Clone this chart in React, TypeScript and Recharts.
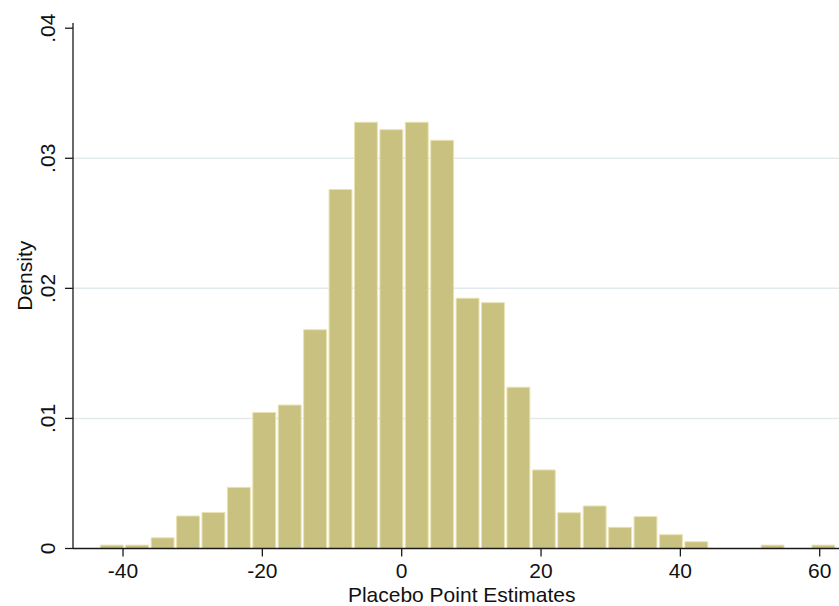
import React from "react";
import { ComposedChart, Bar, XAxis, YAxis, CartesianGrid } from "recharts";

// Histogram definition (bin edges) and densities
const binStart = -43.4;
const binWidth = 3.648;
const densities = [
  0.00026, 0.00026, 0.00082, 0.0025, 0.00277, 0.0047, 0.01046, 0.01103,
  0.01682, 0.0276, 0.03277, 0.0322, 0.03277, 0.03138, 0.01924, 0.0189,
  0.0124, 0.00604, 0.00275, 0.00327, 0.00163, 0.00245, 0.00106, 0.00052,
  0, 0, 0.00026, 0, 0.00026,
];
const xTicks = [-40, -20, 0, 20, 40, 60];
const xTickLabels = ["-40", "-20", "0", "20", "40", "60"];
const yTicks = [0, 0.01, 0.02, 0.03, 0.04];
const yTickLabels = ["0", ".01", ".02", ".03", ".04"];
const yGrid = [0.01, 0.02, 0.03];
const xDomain: [number, number] = [-47.18, 62.77];
const yDomain: [number, number] = [0, 0.0404];

const data = densities.map((d, i) => ({
  mid: binStart + (i + 0.5) * binWidth,
  density: d,
}));

const W = 839;
const H = 606;
const LEFT = 73;
const TOP = 23;
const XAXIS_H = 57.5;
const plotW = W - LEFT;
const barPx = (binWidth / (xDomain[1] - xDomain[0])) * plotW;

const FONT = "'Liberation Sans', Arial, Helvetica, sans-serif";
const AXIS = "#1a1a1a";
const FS = 21;

const XTick = (props: any) => {
  const { x, y, payload } = props;
  const idx = xTicks.indexOf(payload.value);
  return (
    <text x={x} y={y + 21.5} textAnchor="middle" fontSize={FS} fontFamily={FONT} fill="#111">
      {idx >= 0 ? xTickLabels[idx] : payload.value}
    </text>
  );
};

const YTick = (props: any) => {
  const { x, y, payload } = props;
  const idx = yTicks.indexOf(payload.value);
  const bx = x - 10;
  return (
    <text
      x={bx}
      y={y}
      transform={`rotate(-90, ${bx}, ${y})`}
      textAnchor="middle"
      fontSize={FS}
      fontFamily={FONT}
      fill="#111"
    >
      {idx >= 0 ? yTickLabels[idx] : payload.value}
    </text>
  );
};

const XTitle = (props: any) => {
  const vb = props.viewBox;
  return (
    <text
      x={vb.x + vb.width / 2 + 5.7}
      y={H - 4}
      textAnchor="middle"
      fontSize={FS}
      fontFamily={FONT}
      fill="#111"
    >
      Placebo Point Estimates
    </text>
  );
};

const YTitle = (props: any) => {
  const vb = props.viewBox;
  const cx = 32;
  const cy = vb.y + vb.height / 2 - 10;
  return (
    <text
      x={cx}
      y={cy}
      transform={`rotate(-90, ${cx}, ${cy})`}
      textAnchor="middle"
      fontSize={FS}
      fontFamily={FONT}
      fill="#111"
    >
      Density
    </text>
  );
};

export default function App() {
  return (
    <div style={{ position: "absolute", left: 0, top: 0, width: W, height: H, background: "#fff" }}>
      <ComposedChart
        width={W}
        height={H}
        data={data}
        margin={{ top: TOP, right: 0, bottom: 0, left: 0 }}
        barCategoryGap={0}
        barGap={0}
      >
        <CartesianGrid
          horizontal={true}
          vertical={false}
          horizontalValues={yGrid}
          stroke="#e3eaee"
          strokeWidth={1.5}
        />
        <XAxis
          dataKey="mid"
          type="number"
          domain={xDomain}
          ticks={xTicks}
          allowDataOverflow
          height={XAXIS_H}
          tickSize={8}
          tickMargin={0}
          tick={<XTick />}
          axisLine={{ stroke: AXIS, strokeWidth: 1.3 }}
          tickLine={{ stroke: AXIS, strokeWidth: 1.3 }}
          label={<XTitle />}
        />
        <YAxis
          type="number"
          domain={yDomain}
          ticks={yTicks}
          allowDataOverflow
          width={LEFT}
          tickSize={8}
          tickMargin={0}
          tick={<YTick />}
          axisLine={{ stroke: AXIS, strokeWidth: 1.3 }}
          tickLine={{ stroke: AXIS, strokeWidth: 1.3 }}
          label={<YTitle />}
        />
        <Bar
          dataKey="density"
          fill="#c9c17f"
          stroke="#e8e2b4"
          strokeWidth={1}
          barSize={barPx}
          isAnimationActive={false}
        />
      </ComposedChart>
    </div>
  );
}
